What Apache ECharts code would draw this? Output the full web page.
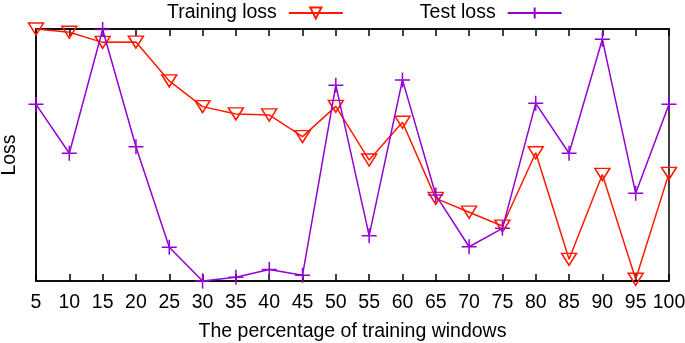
<!DOCTYPE html>
<html>
<head>
<meta charset="utf-8">
<script src="https://cdn.jsdelivr.net/npm/echarts@6/dist/echarts.min.js"></script>
<style>html,body{margin:0;padding:0;background:#fff}#c{width:685px;height:343px}</style>
</head>
<body>
<div id="c"></div>
<script>
const categories = ['5','10','15','20','25','30','35','40','45','50','55','60','65','70','75','80','85','90','95','100'];
const trainingLoss = [1.0,0.987,0.947,0.948,0.794,0.692,0.663,0.659,0.573,0.693,0.480,0.630,0.328,0.273,0.218,0.509,0.086,0.423,0.007,0.427];
const testLoss = [0.701,0.507,0.998,0.533,0.134,0.0,0.015,0.046,0.023,0.777,0.180,0.798,0.341,0.136,0.209,0.705,0.507,0.959,0.348,0.701];
const seriesNames = ['Training loss','Test loss'];
const xName = 'The percentage of training windows';
const yName = 'Loss';

const RED = '#ff1a00';
const PURPLE = '#9400d3';
const FONT = 'Liberation Sans, Arial, Helvetica, sans-serif';
const FS = 19.5;
const plusPath = 'path://M0,7L14,7M7,0L7,14';

const chart = echarts.init(document.getElementById('c'), null, {renderer:'canvas'});
chart.setOption({
  animation:false,
  textStyle:{fontFamily:FONT},
  grid:{left:36,right:16,top:29,bottom:62,containLabel:false,outerBoundsMode:'none',show:true,borderColor:'#000',borderWidth:1.5,backgroundColor:'transparent'},
  legend:{
    top:-2,left:162,align:'right',itemGap:76,itemWidth:54,itemHeight:14,
    textStyle:{fontSize:FS,color:'#000',fontFamily:FONT,padding:[0,7,0,0]},
    data:seriesNames
  },
  xAxis:[{
    type:'category',data:categories,boundaryGap:false,position:'bottom',
    axisLine:{show:true,lineStyle:{color:'#000',width:1.5}},
    axisTick:{show:true,inside:true,length:7,interval:0,lineStyle:{color:'#000',width:1.5}},
    axisLabel:{fontSize:FS,color:'#000',margin:12,interval:0,fontFamily:FONT,hideOverlap:false},
    splitLine:{show:false},
    name:xName,nameLocation:'middle',nameGap:41,
    nameTextStyle:{fontSize:FS,color:'#000',fontFamily:FONT}
  },{
    type:'category',data:categories,boundaryGap:false,position:'top',
    axisLine:{show:true,lineStyle:{color:'#000',width:1.5}},
    axisTick:{show:true,inside:true,length:7,interval:0,lineStyle:{color:'#000',width:1.5}},
    axisLabel:{show:false},splitLine:{show:false}
  }],
  yAxis:{
    type:'value',min:0,max:1,
    axisLine:{show:true,lineStyle:{color:'#000',width:1.5}},
    axisTick:{show:false},axisLabel:{show:false},splitLine:{show:false},
    name:yName,nameLocation:'middle',nameGap:16,nameRotate:90,
    nameTextStyle:{fontSize:FS,color:'#000',fontFamily:FONT}
  },
  series:[{
    name:seriesNames[0],type:'line',data:trainingLoss,xAxisIndex:0,
    symbol:'triangle',symbolRotate:180,symbolSize:[15,12],showAllSymbol:true,
    lineStyle:{color:RED,width:1.5},
    itemStyle:{color:'rgba(255,255,255,0)',borderColor:RED,borderWidth:1.5},
    emphasis:{disabled:true},z:2
  },{
    name:seriesNames[1],type:'line',data:testLoss,xAxisIndex:0,
    symbol:plusPath,symbolSize:15,showAllSymbol:true,
    lineStyle:{color:PURPLE,width:1.5},
    itemStyle:{color:'rgba(255,255,255,0)',borderColor:PURPLE,borderWidth:1.5},
    emphasis:{disabled:true},z:3
  }]
});
</script>
</body>
</html>
